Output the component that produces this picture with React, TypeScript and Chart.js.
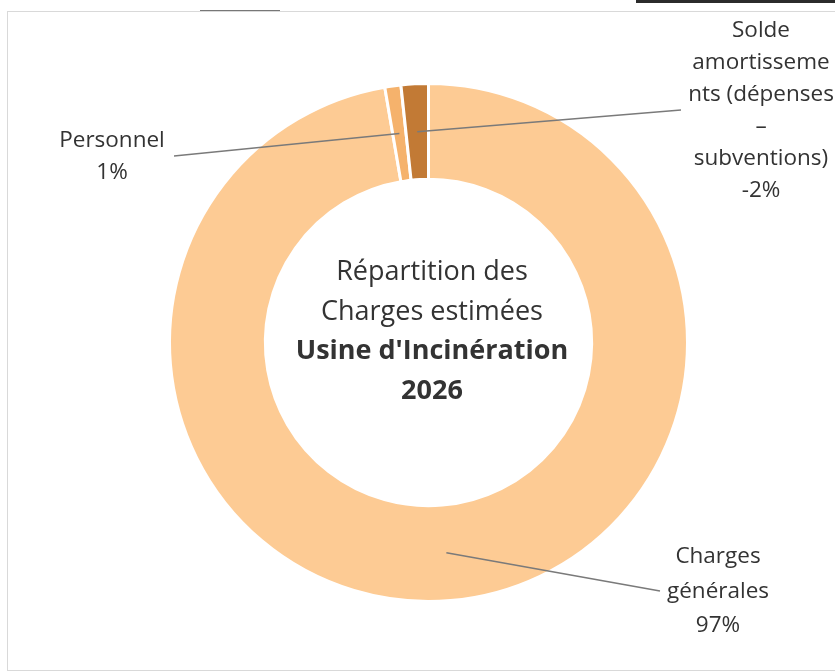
import React, { useEffect, useRef } from "react";
import { Chart, registerables } from "chart.js";

Chart.register(...registerables);

// ---- Data ----
const categories = ["Charges générales", "Personnel", "Solde amortissements (dépenses – subventions)"];
const values = [97.3, 1.0, -1.7];
const percentLabels = ["97%", "1%", "-2%"];
const labelLines = [["Charges", "générales"], ["Personnel"], ["Solde", "amortisseme", "nts (dépenses", "–", "subventions)"]];
const titleLines = ["Répartition des", "Charges estimées"];
const titleBoldLines = ["Usine d'Incinération", "2026"];

// ---- Styles / layout ----
const sliceColors = ["#FDCB94", "#F5B26C", "#C27A35"];
const FONT = "'Open Sans', 'Noto Sans', sans-serif";
const TEXT_COLOR = "#333333";
const labelLayout = [
  { tx: 718, ty: 557, lh: 34.5, ax: 660, ay: 591 },
  { tx: 112, ty: 141, lh: 32, ax: 174, ay: 156 },
  { tx: 761, ty: 31, lh: 32, ax: 681, ay: 110 },
];

const calloutPlugin = {
  id: "calloutLabels",
  afterDraw(chart: any) {
    const ctx = chart.ctx as CanvasRenderingContext2D;
    const meta = chart.getDatasetMeta(0);
    if (!meta.data.length) return;
    const first = meta.data[0] as any;
    ctx.save();
    ctx.fillStyle = TEXT_COLOR;
    ctx.textAlign = "center";
    ctx.textBaseline = "middle";
    // centre title
    const cx = first.x + 3.5;
    let y = first.y - 70;
    ctx.font = `27px ${FONT}`;
    titleLines.forEach((t) => {
      ctx.fillText(t, cx, y);
      y += 39.5;
    });
    ctx.font = `bold 27px ${FONT}`;
    titleBoldLines.forEach((t) => {
      ctx.fillText(t, cx, y);
      y += 39.5;
    });
    // callouts
    meta.data.forEach((arc: any, i: number) => {
      const L = labelLayout[i];
      const p = arc.getCenterPoint();
      ctx.strokeStyle = "#7a7a7a";
      ctx.lineWidth = 1.6;
      ctx.beginPath();
      ctx.moveTo(L.ax, L.ay);
      ctx.lineTo(p.x, p.y);
      ctx.stroke();
      ctx.font = `22.5px ${FONT}`;
      const lines = [...labelLines[i], percentLabels[i]];
      lines.forEach((t, j) => ctx.fillText(t, L.tx, L.ty + j * L.lh));
    });
    ctx.restore();
  },
};

export default function App() {
  const ref = useRef<HTMLCanvasElement>(null);
  useEffect(() => {
    if (!ref.current) return;
    const chart = new Chart(ref.current, {
      type: "doughnut",
      data: {
        labels: categories,
        datasets: [
          {
            data: values.map((v) => Math.abs(v)),
            backgroundColor: sliceColors,
            borderColor: "#ffffff",
            borderWidth: 3,
          },
        ],
      },
      options: {
        responsive: false,
        animation: false,
        cutout: "63%",
        layout: { padding: { left: 168, right: 146, top: 82, bottom: 69 } },
        plugins: { legend: { display: false }, tooltip: { enabled: false } },
      },
      plugins: [calloutPlugin],
    });
    return () => chart.destroy();
  }, []);
  return (
    <div style={{ position: "fixed", left: 0, top: 0, width: 835, height: 672, background: "#fff", overflow: "hidden" }}>
      <canvas ref={ref} width={835} height={672} style={{ position: "absolute", left: 0, top: 0 }} />
      <div style={{ position: "absolute", left: 7, top: 11, width: 840, height: 658, border: "1px solid #d9d9d9", pointerEvents: "none" }} />
      <div style={{ position: "absolute", left: 636, top: 0, width: 199, height: 3, background: "#2b2b2b" }} />
      <div style={{ position: "absolute", left: 200, top: 10, width: 80, height: 1, background: "#777" }} />
    </div>
  );
}
